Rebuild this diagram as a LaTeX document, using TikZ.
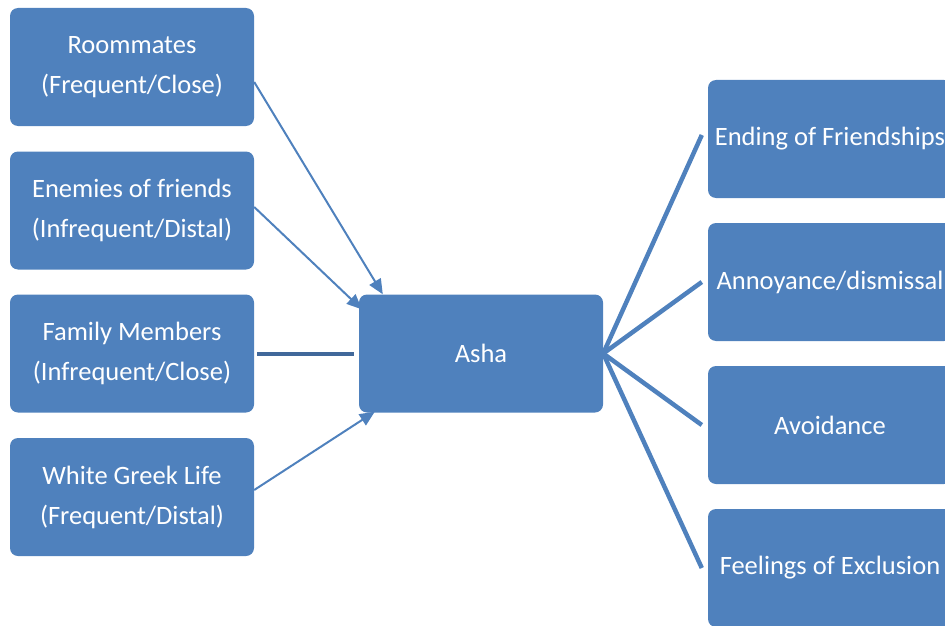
\documentclass[tikz,border=0pt]{standalone}
\usepackage{fontspec}
\setmainfont{Carlito}
\usetikzlibrary{arrows.meta}
\definecolor{boxblue}{HTML}{4F81BD}
\definecolor{linedark}{HTML}{41689A}
\begin{document}
\begin{tikzpicture}[x=1pt,y=-1pt,
  box/.style={fill=boxblue, rounded corners=8pt, minimum width=244pt, minimum height=118pt,
    text=white, align=center, inner sep=0pt, font=\fontsize{26.5}{40}\selectfont},
  feed/.style={draw=boxblue, line width=2pt, -{Triangle[length=15pt,width=13pt]}},
  fan/.style={draw=boxblue, line width=4.5pt}]
\useasboundingbox (0,0) rectangle (945,626);
% left side
\node[box] (room) at (132,67) {Roommates\\(Frequent/Close)};
\node[box] (enem) at (132,210.5) {Enemies of friends\\(Infrequent/Distal)};
\node[box] (fam) at (132,353.5) {Family Members\\(Infrequent/Close)};
\node[box] (greek) at (132,497) {White Greek Life\\(Frequent/Distal)};
% centre
\node[box] (asha) at (481,353.5) {Asha};
% right side
\foreach \n/\y/\t in {1/139/{Ending of Friendships}, 2/282/{Annoyance/dismissal}, 3/425/{Avoidance}, 4/568/{Feelings of Exclusion}}
  \node[box] (out\n) at (830,\y) {\t};
\draw[feed] ([yshift=-15pt]room.east) -- ([xshift=24pt]asha.north west);
\draw[feed] ([yshift=3.5pt]enem.east) -- ([shift={(3pt,-15pt)}]asha.north west);
\draw[draw=linedark, line width=4pt] ([xshift=3pt]fam.east) -- ([xshift=-5pt]asha.west);
\draw[feed] ([yshift=7pt]greek.east) -- ([shift={(16pt,1pt)}]asha.south west);
\draw[fan] (asha.east) -- ([shift={(-6pt,4pt)}]out1.west);
\draw[fan] (asha.east) -- ([xshift=-6pt]out2.west);
\draw[fan] (asha.east) -- ([xshift=-6pt]out3.west);
\draw[fan] (asha.east) -- ([xshift=-6pt]out4.west);
\end{tikzpicture}
\end{document}
